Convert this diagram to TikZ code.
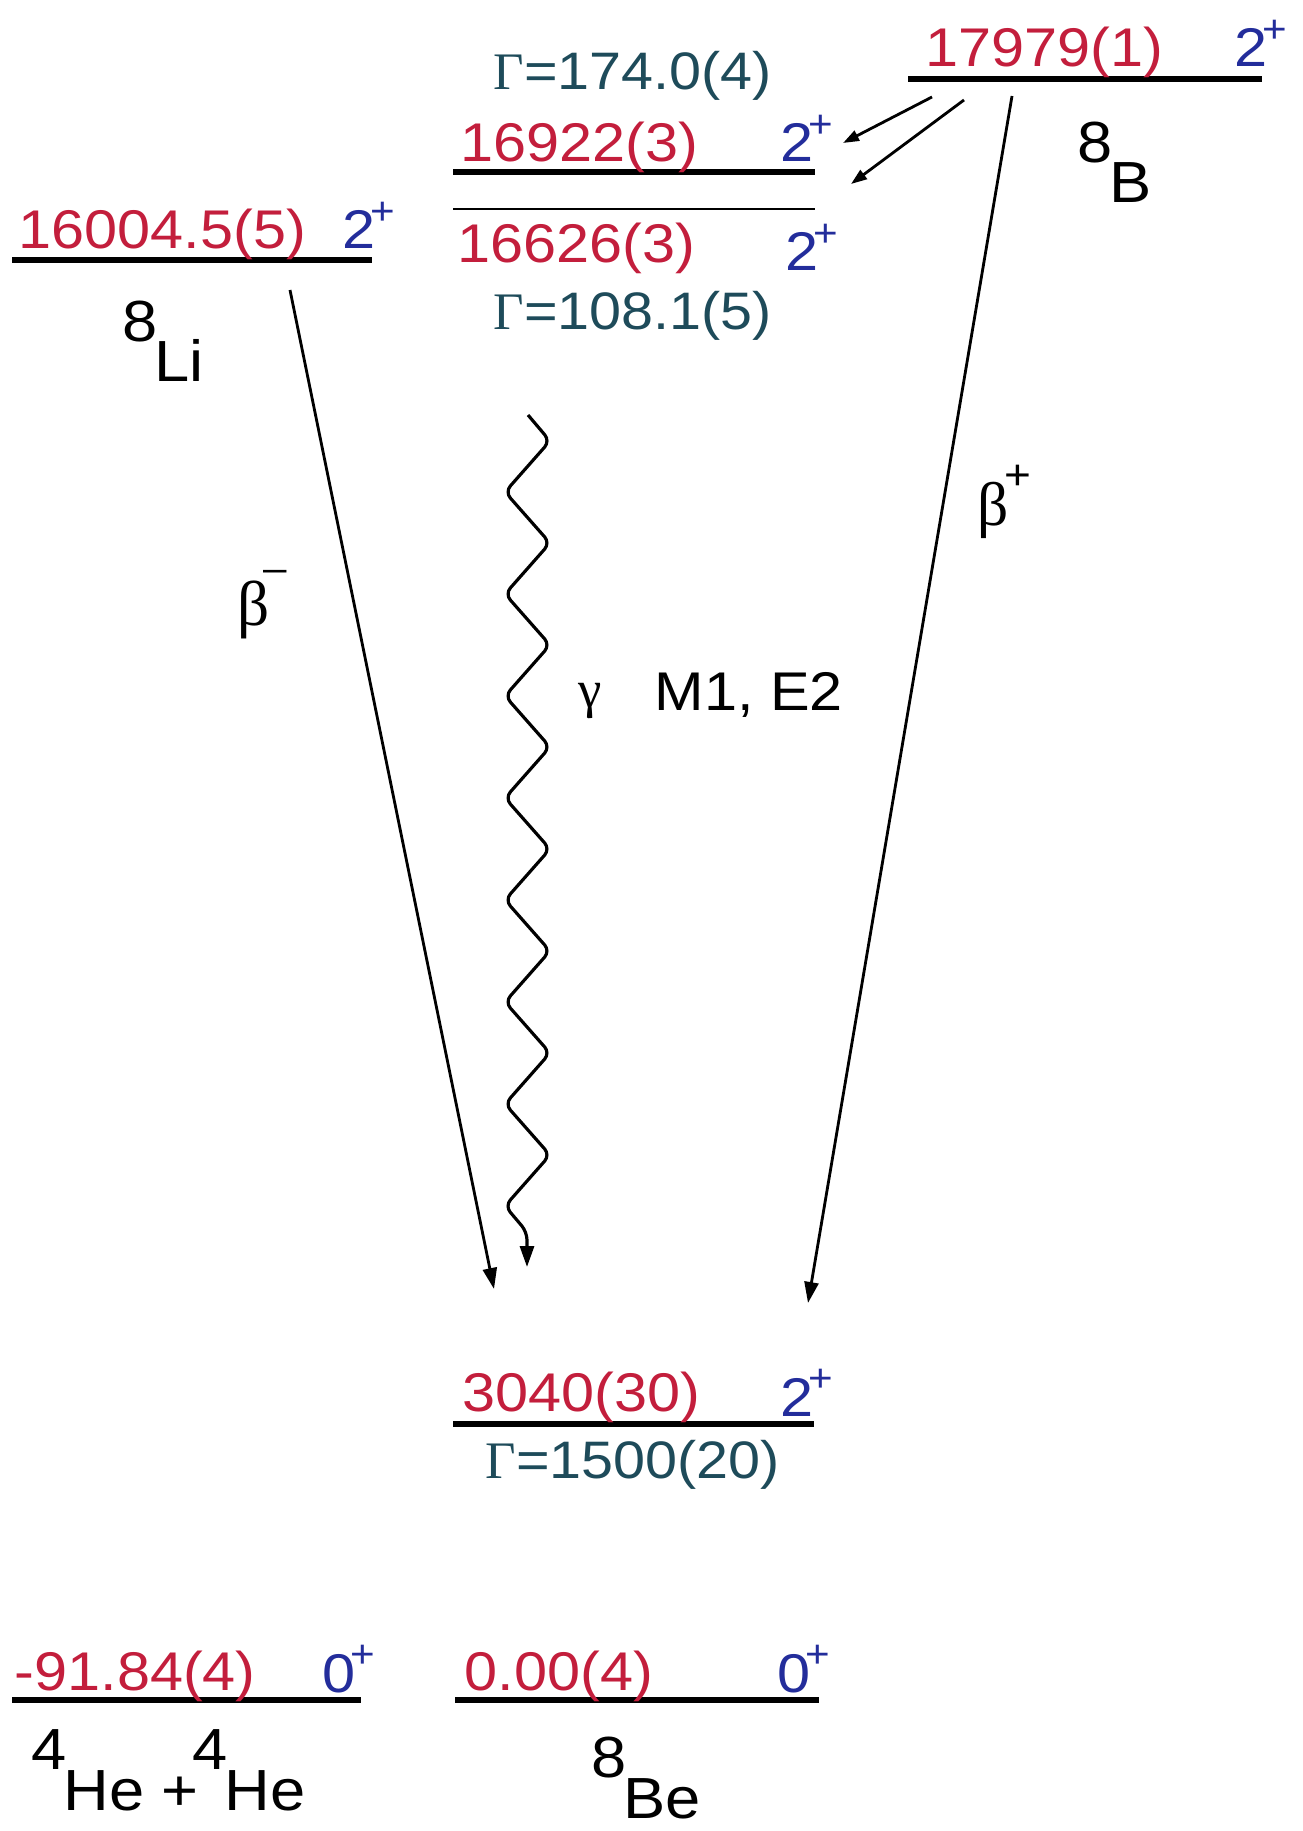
\documentclass[tikz,border=0pt]{standalone}
\usepackage{fontspec}
\setmainfont[FakeStretch=1.09]{Liberation Sans}
\newfontfamily\grk{Liberation Serif}
\usetikzlibrary{arrows.meta}
\definecolor{levelred}{RGB}{195,30,60}
\definecolor{spinblue}{RGB}{35,45,155}
\definecolor{gammateal}{RGB}{30,75,90}
\newcommand{\jpi}[2]{#1\kern-0.1em\raisebox{0.45em}{\fontsize{11}{11}\selectfont #2}}
\newcommand{\nucl}[2]{\raisebox{0.7em}{#1}\kern-0.06em#2}
\tikzset{
  level/.style={line width=1.6pt},
  levelthin/.style={line width=0.8pt},
  energy/.style={anchor=base west, inner sep=0pt, text=levelred, font=\fontsize{15.5}{18}\selectfont},
  spin/.style={anchor=base west, inner sep=0pt, text=spinblue, font=\fontsize{15.5}{18}\selectfont},
  gammawidth/.style={anchor=base, inner sep=0pt, text=gammateal, font=\fontsize{15}{18}\selectfont},
  nuclide/.style={anchor=base west, inner sep=0pt, font=\fontsize{16.5}{19}\selectfont},
  decay/.style={anchor=base west, inner sep=0pt, font=\fontsize{18}{21}\grk},
  trans/.style={-{Triangle[length=2.1mm, width=1.4mm]}, line width=0.8pt},
  transshort/.style={-{Triangle[length=1.6mm, width=1.1mm]}, line width=0.8pt},
}

\begin{document}
\begin{tikzpicture}[x=0.01cm, y=-0.01cm]
\useasboundingbox (0,0) rectangle (1302,1831);

% levels
\draw[level] (908,79) -- (1262,79);
\draw[level] (453,172) -- (815,172);
\draw[levelthin] (453,209) -- (815,209);
\draw[level] (12,260) -- (372,260);
\draw[level] (453,1424) -- (814,1424);
\draw[level] (12,1700) -- (361,1700);
\draw[level] (455,1700) -- (819,1700);

% energies and spins
\node[energy] (e17979) at (925,67) {17979(1)};
\node[spin] (s17979) at (1234,67) {\jpi{2}{+}};
\node[energy] (e16922) at (460,162) {16922(3)};
\node[spin] (s16922) at (780,162) {\jpi{2}{+}};
\node[energy] (e16626) at (457,263) {16626(3)};
\node[spin] (s16626) at (785,271) {\jpi{2}{+}};
\node[energy] (e16004) at (18,249) {16004.5(5)};
\node[spin] (s16004) at (342,249) {\jpi{2}{+}};
\node[energy] (e3040) at (462,1411) {3040(30)};
\node[spin] (s3040) at (780,1416) {\jpi{2}{+}};
\node[energy] (ehe) at (14,1690) {-91.84(4)};
\node[spin] (she) at (322,1692) {\jpi{0}{+}};
\node[energy] (ebe) at (464,1690) {0.00(4)};
\node[spin] (sbe) at (777,1692) {\jpi{0}{+}};

% widths
\node[gammawidth] (w16922) at (633,90) {{\grk Γ}=174.0(4)};
\node[gammawidth] (w16626) at (633,330) {{\grk Γ}=108.1(5)};
\node[gammawidth] (w3040) at (633,1478) {{\grk Γ}=1500(20)};

% nuclides
\node[nuclide] (b8) at (1077,203) {\nucl{8}{B}};
\node[nuclide] (li8) at (122,382) {\nucl{8}{Li}};
\node[nuclide] (be8) at (591,1818) {\nucl{8}{Be}};
\node[nuclide] (hehe) at (31,1810) {\nucl{4}{He} +\kern-0.1em\nucl{4}{He}};

% decay labels
\node[decay] (betam) at (237,625) {β\kern-0.1em\raisebox{0.68em}{\fontsize{11}{11}\selectfont\rmfamily --}};
\node[decay, font=\fontsize{17.5}{20}\grk] (betap) at (977,526) {β\kern-0.08em\raisebox{0.6em}{\fontsize{12}{12}\selectfont\rmfamily +}};
\node[decay, font=\fontsize{15}{18}\grk] (gam) at (578,707) {γ};
\node[anchor=base west, inner sep=0pt, font=\fontsize{15.5}{18}\selectfont] (mult) at (654,710) {M1, E2};

% transitions
\coordinate (bmtop) at (290,290);
\coordinate (bmbot) at (494,1289);
\coordinate (bptop) at (1012,96);
\coordinate (bpbot) at (808,1303);
\coordinate (gtop) at (528,415);
\coordinate (gbot) at (527,1267);
\coordinate (atop) at (932,97);
\coordinate (abot) at (843,143);
\coordinate (btop) at (964,100);
\coordinate (bbot) at (851,184);

\draw[trans] (bmtop) -- (bmbot);
\draw[trans] (bptop) -- (bpbot);
\draw[trans, line width=0.9pt, rounded corners=0.08cm]
  (gtop) -- ++(22,26)
  \foreach \k in {1,...,7} { -- ++(-45,51) -- ++(45,51) }
  -- ++(-45,51) -- ++(22,26) -- (gbot);
\draw[transshort] (atop) -- (abot);
\draw[transshort] (btop) -- (bbot);
\end{tikzpicture}
\end{document}
